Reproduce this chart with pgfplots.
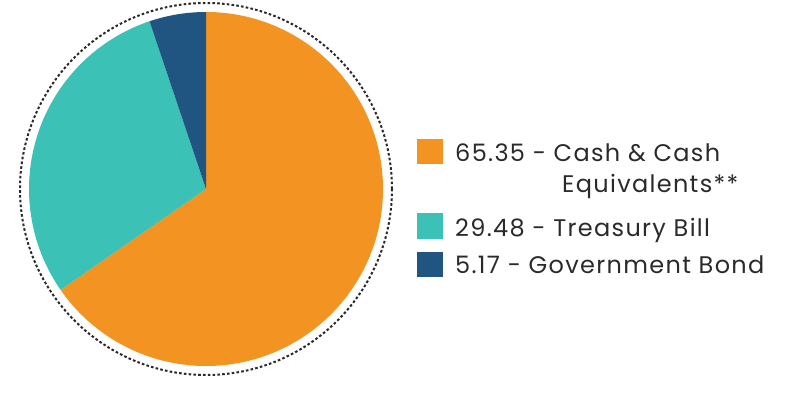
\documentclass[border=0pt]{standalone}
\usepackage{pgfplots}
\usepackage{pgfplotstable}
\pgfplotsset{compat=1.18}
\usepackage{fontspec}
\setmainfont{Poppins}[LetterSpace=5.5]
\definecolor{orangeC}{HTML}{F39322}
\definecolor{tealC}{HTML}{3CC1B7}
\definecolor{blueC}{HTML}{1F5580}
\definecolor{txt}{HTML}{2A2A2A}
\pgfplotstableread{
value
65.35
29.48
5.17
}\piedata
\pgfplotstablegetelem{0}{value}\of\piedata \let\va\pgfplotsretval
\pgfplotstablegetelem{1}{value}\of\piedata \let\vb\pgfplotsretval
\pgfplotstablegetelem{2}{value}\of\piedata \let\vc\pgfplotsretval
\begin{document}
\begin{tikzpicture}
\begin{axis}[
  width=790pt, height=396pt, scale only axis,
  xmin=0, xmax=790, ymin=0, ymax=396,
  hide axis, clip=false,
]
\pgfmathsetmacro\aA{90-3.6*\va}
\pgfmathsetmacro\aB{\aA-3.6*\vb}
\pgfmathsetmacro\aC{\aB-3.6*\vc}
\fill[orangeC] (axis cs:206,207) -- ++(90:177pt) arc[start angle=90, end angle=\aA, radius=177pt] -- cycle;
\fill[tealC] (axis cs:206,207) -- ++(\aA:177pt) arc[start angle=\aA, end angle=\aB, radius=177pt] -- cycle;
\fill[blueC] (axis cs:206,207) -- ++(\aB:177pt) arc[start angle=\aB, end angle=\aC, radius=177pt] -- cycle;
\draw[txt, line width=2pt, dash pattern=on 2.6pt off 2.2pt] (axis cs:206,207) circle[radius=186pt];
% legend
\fill[orangeC] (axis cs:417,232) rectangle (axis cs:443,257);
\fill[tealC] (axis cs:417,157) rectangle (axis cs:443,183);
\fill[blueC] (axis cs:417,119) rectangle (axis cs:443,144);
\node[anchor=base west, inner sep=0pt, txt, font=\fontsize{24}{28}\selectfont] at (axis cs:455,234) {\va{} - Cash \& Cash};
\node[anchor=base west, inner sep=0pt, txt, font=\fontsize{24}{28}\selectfont] at (axis cs:562,203) {Equivalents**};
\node[anchor=base west, inner sep=0pt, txt, font=\fontsize{24}{28}\selectfont] at (axis cs:455,159) {\vb{} - Treasury Bill};
\node[anchor=base west, inner sep=0pt, txt, font=\fontsize{24}{28}\selectfont] at (axis cs:455,122) {\vc{} - Government Bond};
\path (axis cs:0,0) rectangle (axis cs:790,396);
\end{axis}
\end{tikzpicture}
\end{document}
